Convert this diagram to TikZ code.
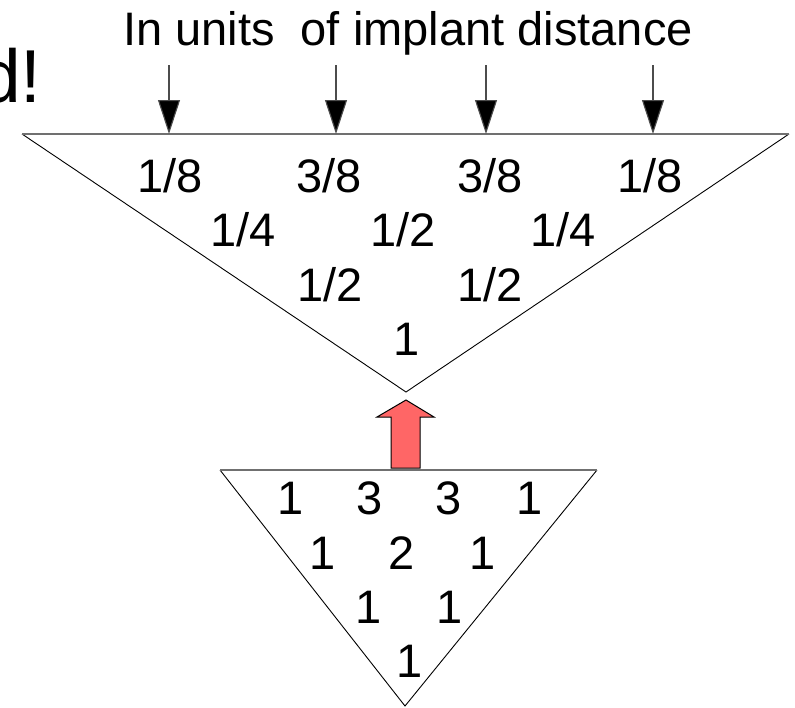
\documentclass[tikz,border=0pt]{standalone}
\usepackage{fontspec}
\setmainfont{Liberation Sans}
\usetikzlibrary{arrows.meta}
\definecolor{arrowred}{HTML}{FF6666}
\definecolor{edgegray}{HTML}{707070}
\tikzset{
  num/.style={inner sep=0pt, font=\fontsize{47}{56}\selectfont},
  tri/.style={line width=0.9pt, black},
  topedge/.style={line width=1.3pt, edgegray},
  downarrow/.style={line width=1.1pt, draw=black!70, -{Triangle[length=34pt,width=22pt,fill=black]}},
}
\begin{document}
\begin{tikzpicture}[x=1pt,y=-1pt]
\useasboundingbox (0,0) rectangle (795,707);
% heading texts
\node[num, anchor=base] (title) at (408,45) {In units\ \ of implant distance};
\node[inner sep=0pt, anchor=base west, font=\fontsize{75}{80}\selectfont] (excl) at (-21,102) {d!};
% big triangle
\coordinate (BL) at (22,134);
\coordinate (BR) at (789,134);
\coordinate (BA) at (406,392);
\draw[tri] (BL) -- (BA) -- (BR);
\draw[topedge] (BL) -- (BR);
% arrows
\foreach \i/\x in {1/169,2/336,3/486,4/653}{
  \coordinate (s\i) at (\x,65);
  \coordinate (e\i) at (\x,134);
  \draw[downarrow] (s\i) -- (e\i);
}
% big triangle labels
\node[num] (b11) at (170,176) {1/8};
\node[num] (b12) at (329,176) {3/8};
\node[num] (b13) at (490,176) {3/8};
\node[num] (b14) at (650,176) {1/8};
\node[num] (b21) at (243,230) {1/4};
\node[num] (b22) at (403,230) {1/2};
\node[num] (b23) at (563,230) {1/4};
\node[num] (b31) at (330,285) {1/2};
\node[num] (b32) at (490,285) {1/2};
\node[num] (b41) at (407,339) {1};
% red block arrow
\draw[line width=1pt, fill=arrowred] (391,468) -- (391,417) -- (377,417) -- (406,400) -- (434,417) -- (420,417) -- (420,468) -- cycle;
% small triangle
\coordinate (SL) at (220,470);
\coordinate (SR) at (597,470);
\coordinate (SA) at (405,706);
\draw[tri] (SL) -- (SA) -- (SR);
\draw[topedge] (SL) -- (SR);
\node[num] (s11) at (291,498) {1};
\node[num] (s12) at (370,498) {3};
\node[num] (s13) at (449,498) {3};
\node[num] (s14) at (530,498) {1};
\node[num] (s21) at (323,553) {1};
\node[num] (s22) at (402,553) {2};
\node[num] (s23) at (483,553) {1};
\node[num] (s31) at (369,607) {1};
\node[num] (s32) at (450,607) {1};
\node[num] (s41) at (410,661) {1};
\end{tikzpicture}
\end{document}
